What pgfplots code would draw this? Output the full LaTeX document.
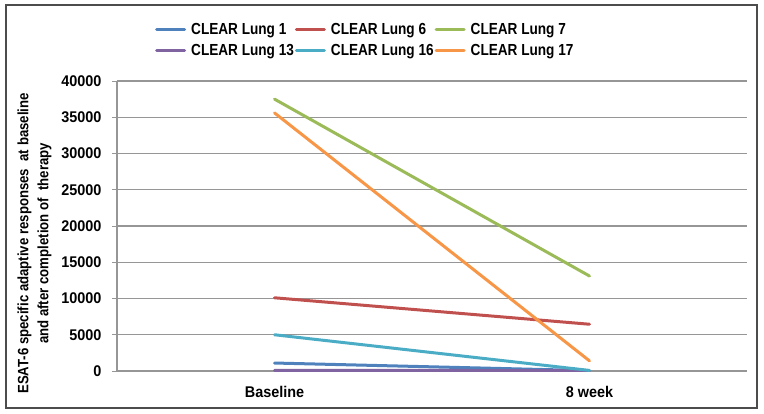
\documentclass[border=0pt]{standalone}
\usepackage{fontspec}
\setmainfont{Liberation Sans}
\newfontfamily\legfont[FakeStretch=0.85]{Liberation Sans}
\newfontfamily\tickfont[FakeStretch=0.93]{Liberation Sans}
\newfontfamily\labfont[FakeStretch=0.88]{Liberation Sans}
\usepackage{pgfplots}
\pgfplotsset{compat=1.18}
\definecolor{cBlue}{HTML}{4F81BD}
\definecolor{cRed}{HTML}{C0504D}
\definecolor{cGreen}{HTML}{9BBB59}
\definecolor{cPurple}{HTML}{8064A2}
\definecolor{cAqua}{HTML}{4BACC6}
\definecolor{cOrange}{HTML}{F79646}
\definecolor{gridgray}{RGB}{150,150,150}
\begin{document}
\begin{tikzpicture}
\useasboundingbox (0,0) rectangle (764pt,413pt);
\draw[line width=1.2pt, black!70] (6pt,5pt) rectangle (757pt,408pt);
\begin{axis}[
  at={(117pt,42pt)}, anchor=south west,
  scale only axis,
  width=630pt, height=290pt,
  xmin=-0.5, xmax=1.5,
  ymin=0, ymax=40000,
  xtick={0,1}, xticklabels={Baseline,8 week},
  ytick={0,5000,...,40000},
  scaled y ticks=false,
  yticklabel style={/pgf/number format/fixed, /pgf/number format/1000 sep={}},
  /pgf/number format/assume math mode=true,
  tick label style={font=\tickfont\fontsize{15.5}{18}\selectfont\bfseries},
  xticklabel style={yshift=-7pt},
  yticklabel style={xshift=-7pt},
  axis x line*=bottom, axis y line*=left,
  axis line style={gridgray, line width=1.2pt},
  x axis line style={draw=none},
  xtick style={draw=none},
  ytick style={gridgray, line width=1pt},
  tick align=outside,
  major tick length=5pt,
  ymajorgrids,
  grid style={gridgray, line width=1.2pt},
  ylabel={ESAT-6 specific adaptive responses\ \ at baseline\\and after completion of\ \ therapy},
  ylabel style={font=\labfont\fontsize{15}{20}\selectfont\bfseries, align=center, at={(axis description cs:-0.131,0.44)}, anchor=center, rotate=0},
  legend columns=3,
  legend cell align=left,
  legend style={draw=none, fill=none, inner sep=0pt,
    nodes={inner sep=0pt},
    at={(axis description cs:0.0603,1.201)}, anchor=north west,
    font=\legfont\fontsize{16}{18}\selectfont\bfseries,
    row sep=9pt,
    /tikz/every even column/.append style={column sep=1pt},
    /tikz/every odd column/.append style={column sep=5pt}},
  legend image code/.code={\draw[line width=3pt] (0pt,0pt) -- (28pt,0pt);},
  every axis plot/.append style={line width=3pt, line cap=round},
]
\addplot[cBlue] coordinates {(0,1100) (1,50)};
\addlegendentry{CLEAR Lung 1}
\addplot[cRed] coordinates {(0,10100) (1,6450)};
\addlegendentry{CLEAR Lung 6}
\addplot[cGreen] coordinates {(0,37500) (1,13100)};
\addlegendentry{CLEAR Lung 7}
\addplot[cPurple] coordinates {(0,100) (1,50)};
\addlegendentry{CLEAR Lung 13}
\addplot[cAqua] coordinates {(0,5000) (1,80)};
\addlegendentry{CLEAR Lung 16}
\addplot[cOrange] coordinates {(0,35600) (1,1400)};
\addlegendentry{CLEAR Lung 17}
\end{axis}
\end{tikzpicture}
\end{document}
